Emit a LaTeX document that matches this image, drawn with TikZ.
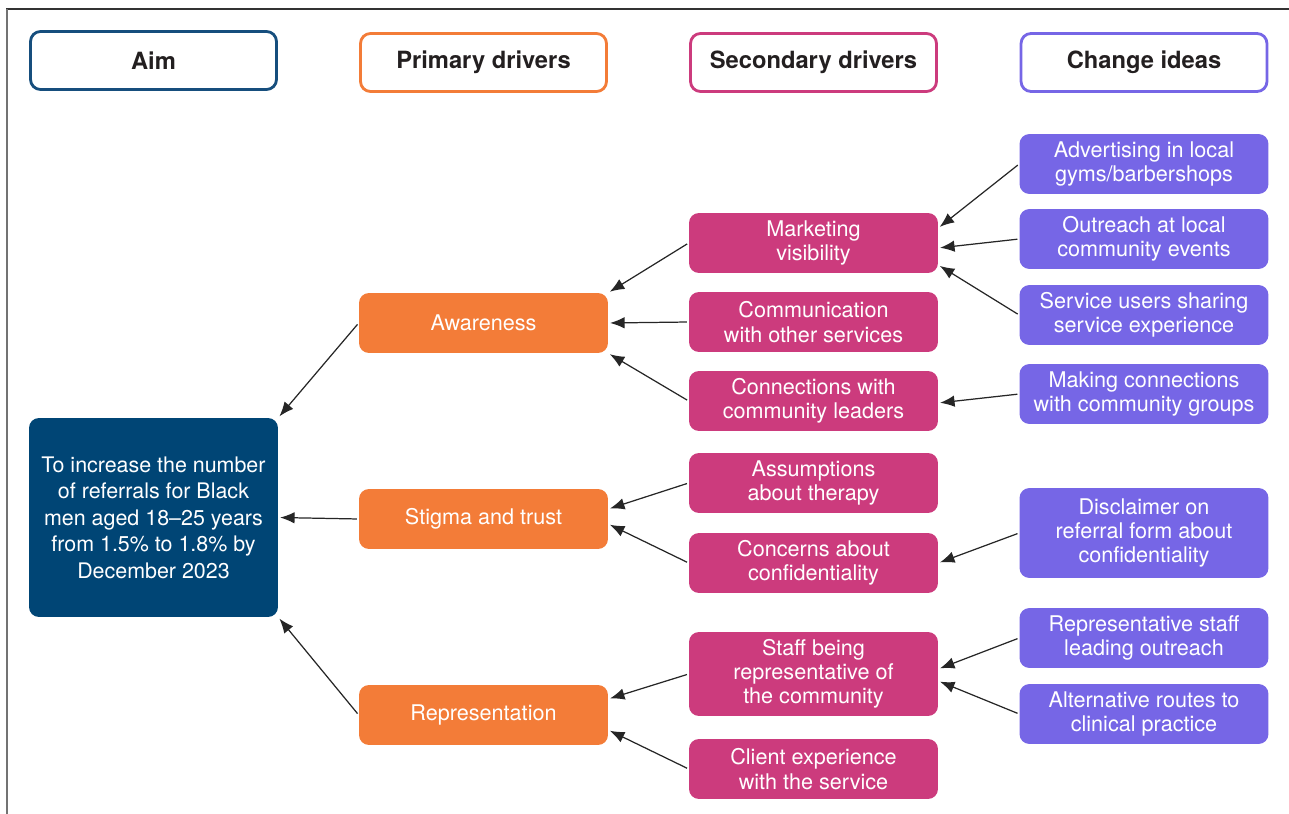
\documentclass[tikz,border=0pt]{standalone}
\usepackage{fontspec}
\setmainfont{TeX Gyre Heros}
\usetikzlibrary{arrows.meta}
\definecolor{aimblue}{RGB}{0,69,117}
\definecolor{aimline}{RGB}{22,78,125}
\definecolor{primorange}{RGB}{243,124,56}
\definecolor{secpink}{RGB}{204,59,125}
\definecolor{ideapurple}{RGB}{118,102,230}
\definecolor{headtext}{RGB}{35,31,32}
\begin{document}
\begin{tikzpicture}[x=0.02cm,y=-0.02cm,
    box/.style={rounded corners=0.2cm,minimum width=4.98cm,minimum height=1.2cm,inner sep=0pt,
        align=center,text=white,font=\fontsize{12.3}{13.8}\selectfont},
    head/.style={draw=#1,line width=1.6pt,rounded corners=0.2cm,minimum width=4.92cm,minimum height=1.16cm,
        inner sep=0pt,text=headtext,font=\fontsize{13.5}{16}\selectfont\bfseries},
    primary/.style={box,fill=primorange},
    secondary/.style={box,fill=secpink},
    idea/.style={box,fill=ideapurple},
    link/.style={-{Latex[length=0.29cm,width=0.23cm]},black!85,line width=0.7pt,shorten <=1pt,shorten >=1pt}]
    \useasboundingbox (0,0) rectangle (1289,814);
    %% frame
    \draw[black!80,line width=1pt] (6,9) -- (1289,9);
    \draw[black!55,line width=1pt] (7,9) -- (7,814);
    %% column headings
    \node[head=aimline] (aimhead) at (153.5,60.5) {Aim};
    \node[head=primorange] (primhead) at (483.5,62.5) {Primary drivers};
    \node[head=secpink] (sechead) at (813.5,62.5) {Secondary drivers};
    \node[head=ideapurple] (ideahead) at (1144,62.5) {Change ideas};
    %% aim
    \node[box,fill=aimblue,minimum height=3.98cm,font=\fontsize{12.2}{15.1}\selectfont] (aim) at (153.5,517.5)
        {To increase the number\\of referrals for Black\\men aged 18--25 years\\from 1.5\% to 1.8\% by\\December 2023};
    %% primary drivers
    \node[primary] (awareness) at (483.5,323) {Awareness};
    \node[primary] (stigma) at (483.5,519) {Stigma and trust};
    \node[primary] (repres) at (483.5,715) {Representation};
    %% secondary drivers
    \node[secondary] (marketing) at (813.5,243) {Marketing\\visibility};
    \node[secondary] (communication) at (813.5,322) {Communication\\with other services};
    \node[secondary] (connections) at (813.5,401) {Connections with\\community leaders};
    \node[secondary] (assumptions) at (813.5,483) {Assumptions\\about therapy};
    \node[secondary] (concerns) at (813.5,563) {Concerns about\\confidentiality};
    \node[secondary,minimum height=1.68cm] (staff) at (813.5,674) {Staff being\\representative of\\the community};
    \node[secondary] (client) at (813.5,769) {Client experience\\with the service};
    %% change ideas
    \node[idea] (advertising) at (1144,164) {Advertising in local\\gyms/barbershops};
    \node[idea] (outreach) at (1144,239) {Outreach at local\\community events};
    \node[idea] (sharing) at (1144,315) {Service users sharing\\service experience};
    \node[idea] (groups) at (1144,394) {Making connections\\with community groups};
    \node[idea,minimum height=1.8cm] (disclaimer) at (1144,533) {Disclaimer on\\referral form about\\confidentiality};
    \node[idea] (repstaff) at (1144,638) {Representative staff\\leading outreach};
    \node[idea] (routes) at (1144,714) {Alternative routes to\\clinical practice};
    %% primary -> aim
    \draw[link] (awareness.west) -- (aim.north east);
    \draw[link] (stigma.west) -- (aim.east);
    \draw[link] (repres.west) -- (aim.south east);
    %% secondary -> primary
    \draw[link] (marketing.west) -- (awareness.north east);
    \draw[link] (communication.west) -- (awareness.east);
    \draw[link] (connections.west) -- (awareness.south east);
    \draw[link] (assumptions.west) -- ([yshift=0.2cm]stigma.east);
    \draw[link] (concerns.west) -- ([yshift=-0.1cm]stigma.east);
    \draw[link] (staff.west) -- ([yshift=0.32cm]repres.east);
    \draw[link] (client.west) -- ([yshift=-0.3cm]repres.east);
    %% change ideas -> secondary
    \draw[link] (advertising.west) -- ([yshift=0.3cm]marketing.east);
    \draw[link] (outreach.west) -- ([yshift=-0.1cm]marketing.east);
    \draw[link] (sharing.west) -- ([yshift=-0.44cm]marketing.east);
    \draw[link] (groups.west) -- ([yshift=-0.04cm]connections.east);
    \draw[link] (disclaimer.west) -- (concerns.east);
    \draw[link] (repstaff.west) -- ([yshift=0.1cm]staff.east);
    \draw[link] (routes.west) -- ([yshift=-0.14cm]staff.east);
\end{tikzpicture}
\end{document}
